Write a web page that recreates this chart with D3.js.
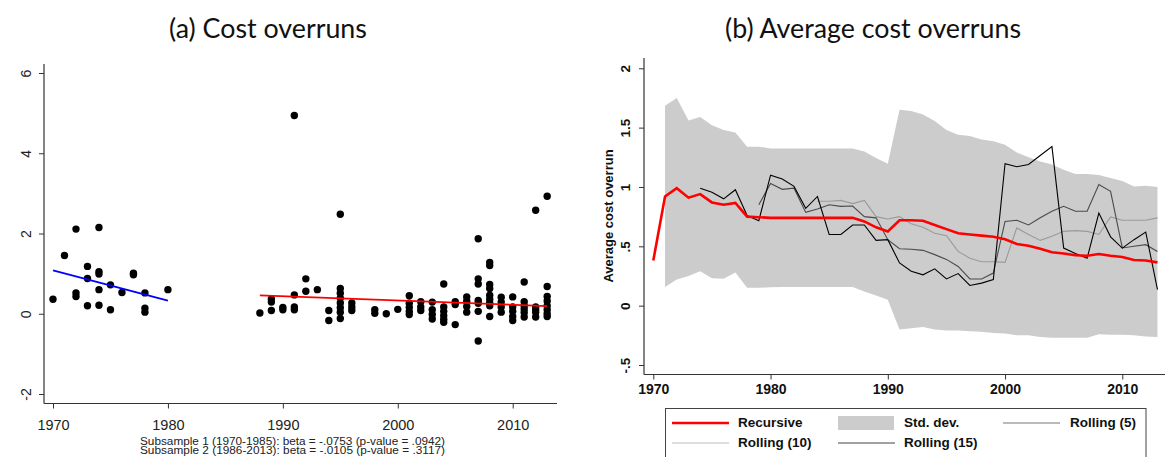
<!DOCTYPE html>
<html><head><meta charset="utf-8">
<script src="https://cdn.jsdelivr.net/npm/d3@7"></script>
<style>
html,body{margin:0;padding:0;background:#fff;}
svg{display:block;}
</style></head>
<body>
<svg id="chart" width="1165" height="457"></svg>
<script>
// ---------- DATA ----------
const titleA = "(a) Cost overruns";
const titleB = "(b) Average cost overruns";
const yTitleB = "Average cost overrun";
const notes = ["Subsample 1 (1970-1985): beta = -.0753 (p-value = .0942)",
               "Subsample 2 (1986-2013): beta = -.0105 (p-value = .3117)"];

const xTicksA = [1970, 1980, 1990, 2000, 2010];
const yTicksA = [-2, 0, 2, 4, 6];
const yTickLabelsA = ["-2", "0", "2", "4", "6"];
const xTicksB = [1970, 1980, 1990, 2000, 2010];
const yTicksB = [-0.5, 0, 0.5, 1, 1.5, 2];
const yTickLabelsB = ["-.5", "0", ".5", "1", "1.5", "2"];

const scatterYear = [
 1970,1971,1972,1972,1972,1973,1973,1973,1974,1974,1974,1974,1974,1975,1975,1976,1977,1977,1978,1978,1978,1980,
 1988,1989,1989,1989,1990,1990,1991,1991,1991,1991,1992,1992,1993,1994,1994,
 1995,1995,1995,1995,1995,1995,1995,1995,1996,1996,1996,1998,1998,1999,2000,
 2001,2001,2001,2001,2001,2002,2002,2002,2003,2003,2003,2003,
 2004,2004,2004,2004,2004,2004,2005,2005,2005,2006,2006,2006,2006,
 2007,2007,2007,2007,2007,2007,2007,2008,2008,2008,2008,2008,2008,2008,2008,2008,
 2009,2009,2009,2009,2010,2010,2010,2010,2010,2011,2011,2011,2011,2011,2011,
 2012,2012,2012,2012,2012,2013,2013,2013,2013,2013,2013,2013,2013];
const scatterValue = [
 0.36,1.45,2.11,0.52,0.43,1.18,0.88,0.2,2.15,1.05,0.99,0.6,0.21,0.72,0.1,0.53,1.01,0.97,0.52,0.14,0.04,0.6,
 0.02,0.37,0.29,0.08,0.16,0.1,4.94,0.47,0.17,0.1,0.87,0.56,0.6,0.08,-0.17,
 2.48,0.63,0.51,0.39,0.27,0.15,0.04,-0.12,0.27,0.17,0.08,0.1,0.01,0.0,0.11,
 0.45,0.26,0.16,0.06,-0.02,0.3,0.17,0.08,0.29,0.1,-0.02,-0.13,
 0.74,0.17,0.06,-0.05,-0.14,-0.21,0.3,0.23,-0.27,0.42,0.31,0.18,0.04,
 1.87,0.87,0.74,0.33,0.26,0.06,-0.68,1.28,1.2,0.73,0.63,0.46,0.36,0.27,0.2,-0.07,
 0.41,0.29,0.17,0.04,0.42,0.17,0.06,-0.07,-0.17,0.79,0.3,0.2,0.12,0.03,-0.08,
 2.58,0.17,0.1,0.04,-0.08,2.93,0.68,0.43,0.32,0.2,0.1,0.0,-0.07];

const fit1Years = [1970, 1980];
const fit1Values = [1.08, 0.33];
const fit2Years = [1988, 2013];
const fit2Values = [0.46, 0.19];

const recursive = [0.38,0.92,0.99,0.91,0.94,0.87,0.85,0.865,0.75,0.745,
 0.74,0.74,0.74,0.74,0.74,0.74,0.74,0.74,0.71,0.66,
 0.625,0.72,0.72,0.715,0.68,0.645,0.61,0.60,0.59,0.58,
 0.56,0.52,0.505,0.48,0.45,0.44,0.425,0.42,0.435,0.42,
 0.41,0.385,0.38,0.365];
const recursiveStart = 1970;
const bandStart = 1971;
const bandUpper = [1.685,1.75,1.56,1.59,1.52,1.48,1.46,1.34,1.34,1.325,
 1.325,1.325,1.325,1.325,1.325,1.325,1.325,1.30,1.245,1.195,
 1.65,1.64,1.61,1.555,1.48,1.44,1.43,1.40,1.385,1.355,
 1.29,1.25,1.215,1.19,1.145,1.11,1.11,1.10,1.075,1.05,1.005,1.01,1.0];
const bandLower = [0.157,0.22,0.25,0.29,0.23,0.227,0.28,0.15,0.15,0.155,
 0.157,0.157,0.157,0.157,0.157,0.157,0.157,0.12,0.085,0.05,
 -0.2,-0.19,-0.18,-0.2,-0.21,-0.21,-0.215,-0.22,-0.23,-0.235,
 -0.25,-0.25,-0.265,-0.27,-0.27,-0.27,-0.27,-0.24,-0.245,-0.245,-0.25,-0.26,-0.265];
const roll5Start = 1974;
const roll5 = [0.99,0.955,0.90,0.977,0.76,0.716,1.10,1.067,1.005,0.82,0.92,0.60,0.60,0.68,0.68,0.55,0.556,
 0.36,0.29,0.26,0.31,0.225,0.27,0.17,0.19,0.22,
 1.196,1.17,1.19,1.265,1.34,0.485,0.44,0.40,0.78,0.58,0.485,0.556,0.62,0.135];
const roll10Start = 1979;
const roll10 = [0.85,1.03,0.98,0.99,0.786,0.815,0.85,0.837,0.84,0.75,0.74,
 0.556,0.48,0.475,0.466,0.43,0.39,0.33,0.225,0.225,0.275,
 0.71,0.72,0.68,0.74,0.795,0.837,0.795,0.795,1.02,0.963,0.486,0.5,0.514,0.457];
const roll15Start = 1984;
const roll15 = [0.88,0.88,0.887,0.86,0.887,0.75,0.73,0.75,0.69,0.66,
 0.61,0.59,0.457,0.40,0.37,0.37,0.365,0.655,0.6,0.55,
 0.584,0.626,0.632,0.626,0.6,0.747,0.72,0.72,0.72,0.74];

const legendLabels = ["Recursive", "Std. dev.", "Rolling (5)", "Rolling (10)", "Rolling (15)"];

// ---------- DRAW ----------
const svg = d3.select("#chart");
const FONT = "'Liberation Sans', Arial, sans-serif";
const TFONT = "Lato, 'Open Sans', sans-serif";

// ===== Panel A =====
const xA = d3.scaleLinear().domain([1970, 2010]).range([53, 512.7]);
const yA = d3.scaleLinear().domain([-2, 6]).range([394, 73]);
const gA = svg.append("g");

gA.append("text").attr("x", 268).attr("y", 38).attr("text-anchor", "middle")
  .attr("font-family", TFONT).attr("font-size", 26.8).attr("fill", "#111").text(titleA);

const axA_y = gA.append("g").attr("transform", "translate(44,0)")
  .call(d3.axisLeft(yA).tickValues(yTicksA).tickSize(5).tickFormat((d,i)=>yTickLabelsA[i]));
axA_y.select(".domain").remove();
gA.append("line").attr("x1",44).attr("x2",44).attr("y1",64).attr("y2",403.5).attr("stroke","#333").attr("stroke-width",1.2);
axA_y.selectAll(".tick line").attr("stroke","#333");
axA_y.selectAll(".tick text").attr("font-family",FONT).attr("font-size",14).attr("fill","#222")
  .attr("x",null).attr("dy",null).attr("text-anchor","middle")
  .attr("transform","translate(-17,0) rotate(-90)").attr("dominant-baseline","middle");

const axA_x = gA.append("g").attr("transform", "translate(0,403.5)")
  .call(d3.axisBottom(xA).tickValues(xTicksA).tickSize(5).tickFormat(d3.format("d")));
axA_x.select(".domain").remove();
gA.append("line").attr("x1",44).attr("x2",557).attr("y1",403.5).attr("y2",403.5).attr("stroke","#333").attr("stroke-width",1.2);
axA_x.selectAll(".tick line").attr("stroke","#333");
axA_x.selectAll(".tick text").attr("font-family",FONT).attr("font-size",14.5).attr("fill","#222").attr("y",16);

gA.append("g").selectAll("circle").data(scatterYear.map((y,i)=>[y, scatterValue[i]]))
  .join("circle").attr("cx", d=>xA(d[0])).attr("cy", d=>yA(d[1])).attr("r", 3.7).attr("fill","#000");

const lineA = d3.line().x(d=>xA(d[0])).y(d=>yA(d[1]));
gA.append("path").attr("d", lineA(fit1Years.map((y,i)=>[y, fit1Values[i]])))
  .attr("stroke","#0000ff").attr("stroke-width",1.8).attr("fill","none");
gA.append("path").attr("d", lineA(fit2Years.map((y,i)=>[y, fit2Values[i]])))
  .attr("stroke","#ff0000").attr("stroke-width",1.8).attr("fill","none");

notes.forEach((t,i)=>{
  gA.append("text").attr("x",140).attr("y",444.5 + i*9.6).attr("font-family",FONT)
    .attr("font-size",10).attr("fill","#222").attr("textLength",305).attr("lengthAdjust","spacingAndGlyphs").text(t);
});

// ===== Panel B =====
const xB = d3.scaleLinear().domain([1970, 2010]).range([653.3, 1122.3]);
const yB = d3.scaleLinear().domain([-0.5, 2]).range([365, 68.3]);
const gB = svg.append("g");

gB.append("text").attr("x", 873).attr("y", 38).attr("text-anchor", "middle")
  .attr("font-family", TFONT).attr("font-size", 26.8).attr("fill", "#111").text(titleB);

const bandData = bandUpper.map((u,i)=>({year: bandStart+i, hi: u, lo: bandLower[i]}));
gB.append("path").datum(bandData)
  .attr("d", d3.area().x(d=>xB(d.year)).y0(d=>yB(d.lo)).y1(d=>yB(d.hi)))
  .attr("fill","#cccccc").attr("stroke","none");

const axB_y = gB.append("g").attr("transform","translate(644,0)")
  .call(d3.axisLeft(yB).tickValues(yTicksB).tickSize(5).tickFormat((d,i)=>yTickLabelsB[i]));
axB_y.select(".domain").remove();
gB.append("line").attr("x1",644).attr("x2",644).attr("y1",58).attr("y2",374.5).attr("stroke","#333").attr("stroke-width",1.2);
axB_y.selectAll(".tick line").attr("stroke","#333");
axB_y.selectAll(".tick text").attr("font-family",FONT).attr("font-size",13.5).attr("font-weight","bold").attr("fill","#111")
  .attr("x",null).attr("dy",null).attr("text-anchor","middle")
  .attr("transform","translate(-18,0) rotate(-90)").attr("dominant-baseline","middle");

const axB_x = gB.append("g").attr("transform","translate(0,374.5)")
  .call(d3.axisBottom(xB).tickValues(xTicksB).tickSize(5).tickFormat(d3.format("d")));
axB_x.select(".domain").remove();
gB.append("line").attr("x1",644).attr("x2",1165).attr("y1",374.5).attr("y2",374.5).attr("stroke","#333").attr("stroke-width",1.2);
axB_x.selectAll(".tick line").attr("stroke","#333");
axB_x.selectAll(".tick text").attr("font-family",FONT).attr("font-size",14).attr("font-weight","bold").attr("fill","#111").attr("y",10);

gB.append("text").attr("transform","translate(613,216) rotate(-90)").attr("text-anchor","middle")
  .attr("font-family",FONT).attr("font-size",13).attr("font-weight","bold").attr("fill","#111").text(yTitleB);

const lineB = d3.line().x(d=>xB(d[0])).y(d=>yB(d[1]));
const series = (start, vals) => vals.map((v,i)=>[start+i, v]);
gB.append("path").attr("d", lineB(series(roll15Start, roll15))).attr("stroke","#9a9a9a").attr("stroke-width",1.1).attr("fill","none");
gB.append("path").attr("d", lineB(series(roll10Start, roll10))).attr("stroke","#4a4a4a").attr("stroke-width",1.1).attr("fill","none");
gB.append("path").attr("d", lineB(series(roll5Start, roll5))).attr("stroke","#000").attr("stroke-width",1.1).attr("fill","none");
gB.append("path").attr("d", lineB(series(recursiveStart, recursive))).attr("stroke","#ff0000").attr("stroke-width",2.6).attr("fill","none");

// legend
const lg = svg.append("g");
lg.append("rect").attr("x",665.5).attr("y",408.5).attr("width",480.5).attr("height",60)
  .attr("fill","#fff").attr("stroke","#444").attr("stroke-width",1);
const legendItems = [
  {label: legendLabels[0], type:"line", color:"#ff0000", w:2.6, kx:672, tx:738, ty:423},
  {label: legendLabels[1], type:"rect", color:"#cccccc", kx:838, tx:904, ty:423},
  {label: legendLabels[2], type:"line", color:"#777777", w:1.2, kx:1003, tx:1070, ty:423},
  {label: legendLabels[3], type:"line", color:"#bbbbbb", w:1.2, kx:672, tx:738, ty:443},
  {label: legendLabels[4], type:"line", color:"#444444", w:1.2, kx:838, tx:904, ty:443}
];
legendItems.forEach(it=>{
  if (it.type === "line") {
    lg.append("line").attr("x1",it.kx).attr("x2",it.kx+57).attr("y1",it.ty).attr("y2",it.ty)
      .attr("stroke",it.color).attr("stroke-width",it.w);
  } else {
    lg.append("rect").attr("x",it.kx).attr("y",it.ty-7).attr("width",56).attr("height",14).attr("fill",it.color);
  }
  lg.append("text").attr("x",it.tx).attr("y",it.ty).attr("dominant-baseline","middle")
    .attr("font-family",FONT).attr("font-size",13.5).attr("font-weight","bold").attr("fill","#111").text(it.label);
});
</script>
</body></html>
